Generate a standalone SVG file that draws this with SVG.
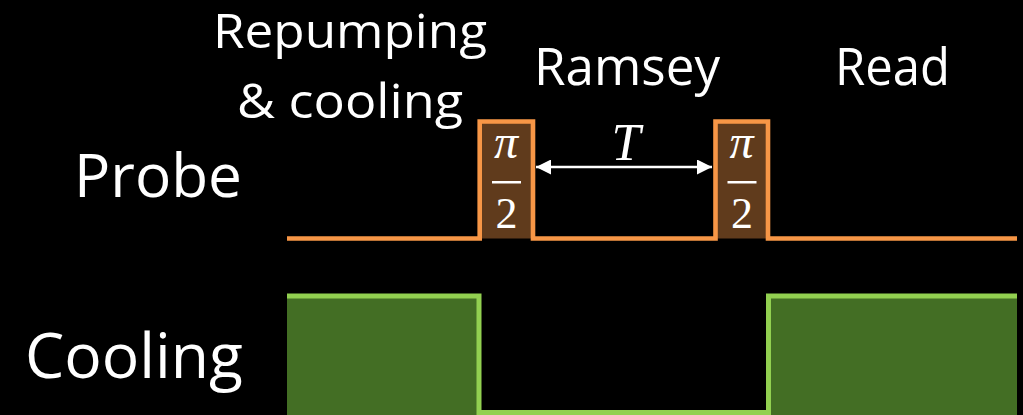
<svg xmlns="http://www.w3.org/2000/svg" width="1023" height="415" viewBox="0 0 1023 415">
<defs>
<style>
.lbl{font-family:"Open Sans","Liberation Sans",sans-serif;fill:#fff}
.math{font-family:"Liberation Serif","DejaVu Serif",serif;fill:#fff}
.probe{fill:none;stroke:#F79646;stroke-width:4.6;stroke-linejoin:miter}
.pulse{fill:#603B1C}
.cool{fill:none;stroke:#92D050;stroke-width:5}
.coolfill{fill:#436E24}
</style>
<marker id="ah" viewBox="0 0 10 10" refX="10" refY="5" markerWidth="15" markerHeight="15" markerUnits="userSpaceOnUse" orient="auto-start-reverse">
<path d="M0,0 L10,5 L0,10 z" fill="#fff"/>
</marker>
</defs>
<rect width="1023" height="415" fill="#000"/>
<g id="labels">
<text class="lbl" x="213" y="48" font-size="48" textLength="274" lengthAdjust="spacingAndGlyphs">Repumping</text>
<text class="lbl" x="237" y="118" font-size="48" textLength="226" lengthAdjust="spacingAndGlyphs">&amp; cooling</text>
<text class="lbl" x="534" y="85" font-size="51" textLength="186" lengthAdjust="spacingAndGlyphs">Ramsey</text>
<text class="lbl" x="835" y="85" font-size="51" textLength="115" lengthAdjust="spacingAndGlyphs">Read</text>
<text class="lbl" x="74" y="197" font-size="61" textLength="168" lengthAdjust="spacingAndGlyphs">Probe</text>
<text class="lbl" x="25" y="378" font-size="62" textLength="218" lengthAdjust="spacingAndGlyphs">Cooling</text>
</g>
<g id="cooling">
<rect class="coolfill" x="287" y="296" width="192" height="119"/>
<rect class="coolfill" x="768.5" y="296" width="248.5" height="119"/>
<path class="cool" d="M287,296 H479 V412.5 H768.5 V296 H1017"/>
</g>
<g id="probe">
<rect class="pulse" x="479.7" y="121.5" width="53.3" height="117"/>
<rect class="pulse" x="715.5" y="121.5" width="52.5" height="117"/>
<path class="probe" d="M287,238.5 H479.7 V121.5 H533 V238.5 H715.5 V121.5 H768 V238.5 H1017"/>
</g>
<g id="pulse1">
<text class="math" x="506" y="158" font-size="48" font-style="italic" text-anchor="middle">π</text>
<rect x="492" y="181" width="29" height="2.5" fill="#fff"/>
<text class="math" x="506.5" y="228" font-size="44" text-anchor="middle">2</text>
</g>
<g id="pulse2">
<text class="math" x="741.5" y="158" font-size="48" font-style="italic" text-anchor="middle">π</text>
<rect x="727.5" y="181" width="29" height="2.5" fill="#fff"/>
<text class="math" x="742" y="228" font-size="44" text-anchor="middle">2</text>
</g>
<g id="connectors">
<line x1="536" y1="167" x2="712" y2="167" stroke="#fff" stroke-width="2.5" marker-start="url(#ah)" marker-end="url(#ah)"/>
<text class="math" x="626" y="160" font-size="52" font-style="italic" text-anchor="middle">T</text>
</g>
</svg>
